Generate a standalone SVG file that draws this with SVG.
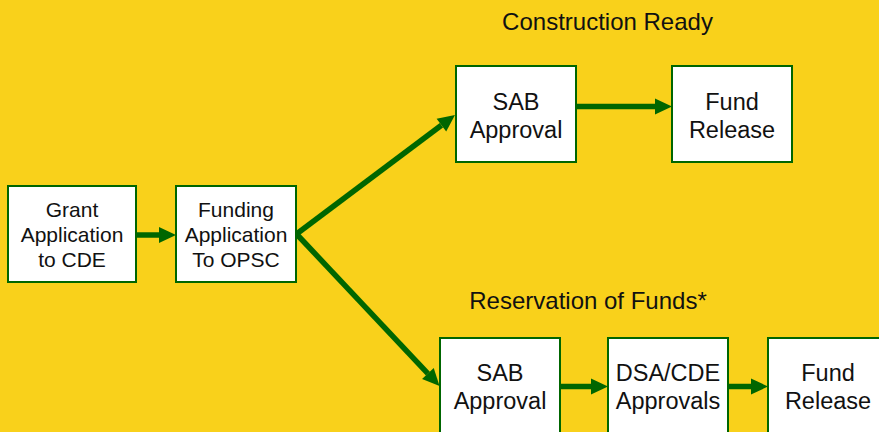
<svg xmlns="http://www.w3.org/2000/svg" width="879" height="432" viewBox="0 0 879 432">
  <defs>
    <marker id="ah" markerUnits="userSpaceOnUse" markerWidth="18" markerHeight="17" refX="0" refY="8" orient="auto" overflow="visible">
      <path d="M0,0 L17,8 L0,16 Z" fill="#006600"/>
    </marker>
    <style>
      .box { fill: #ffffff; stroke: #006600; stroke-width: 2; }
      .t3 { font-family: "Liberation Sans", Arial, sans-serif; font-size: 21px; fill: #111111; text-anchor: middle; }
      .t2 { font-family: "Liberation Sans", Arial, sans-serif; font-size: 23.5px; fill: #111111; text-anchor: middle; }
      .title { font-family: "Liberation Sans", Arial, sans-serif; font-size: 24px; fill: #111111; text-anchor: middle; }
      .conn { stroke: #006600; stroke-width: 5.5; fill: none; marker-end: url(#ah); }
    </style>
  </defs>
  <rect x="0" y="0" width="879" height="432" fill="#F9D11B"/>

  <text class="title" x="607.5" y="30">Construction Ready</text>
  <text class="title" x="588" y="309">Reservation of Funds*</text>

  <g id="connectors">
    <line class="conn" x1="136" y1="235" x2="159" y2="235"/>
    <line class="conn" x1="576" y1="106.5" x2="655" y2="106.5"/>
    <line class="conn" x1="560" y1="386.5" x2="591" y2="386.5"/>
    <line class="conn" x1="728" y1="386.5" x2="751" y2="386.5"/>
    <line class="conn" x1="296.5" y1="234" x2="441.4" y2="125.2"/>
    <line class="conn" x1="296.5" y1="234" x2="427.9" y2="373.6"/>
  </g>

  <g id="grant">
    <rect class="box" x="8" y="186" width="128" height="96"/>
    <text class="t3" x="72" y="217">Grant</text>
    <text class="t3" x="72" y="242">Application</text>
    <text class="t3" x="72" y="267">to CDE</text>
  </g>
  <g id="funding">
    <rect class="box" x="176" y="186" width="120" height="96"/>
    <text class="t3" x="236" y="217">Funding</text>
    <text class="t3" x="236" y="242">Application</text>
    <text class="t3" x="236" y="267">To OPSC</text>
  </g>
  <g id="sab-top">
    <rect class="box" x="456" y="66" width="120" height="96"/>
    <text class="t2" x="516" y="109.5">SAB</text>
    <text class="t2" x="516" y="137.5">Approval</text>
  </g>
  <g id="fund-top">
    <rect class="box" x="672" y="66" width="120" height="96"/>
    <text class="t2" x="732" y="109.5">Fund</text>
    <text class="t2" x="732" y="137.5">Release</text>
  </g>
  <g id="sab-bottom">
    <rect class="box" x="440" y="338" width="120" height="96"/>
    <text class="t2" x="500" y="381">SAB</text>
    <text class="t2" x="500" y="409">Approval</text>
  </g>
  <g id="dsa-cde">
    <rect class="box" x="608" y="338" width="120" height="96"/>
    <text class="t2" x="668" y="381">DSA/CDE</text>
    <text class="t2" x="668" y="409">Approvals</text>
  </g>
  <g id="fund-bottom">
    <rect class="box" x="768" y="338" width="120" height="96"/>
    <text class="t2" x="828" y="381">Fund</text>
    <text class="t2" x="828" y="409">Release</text>
  </g>
</svg>
